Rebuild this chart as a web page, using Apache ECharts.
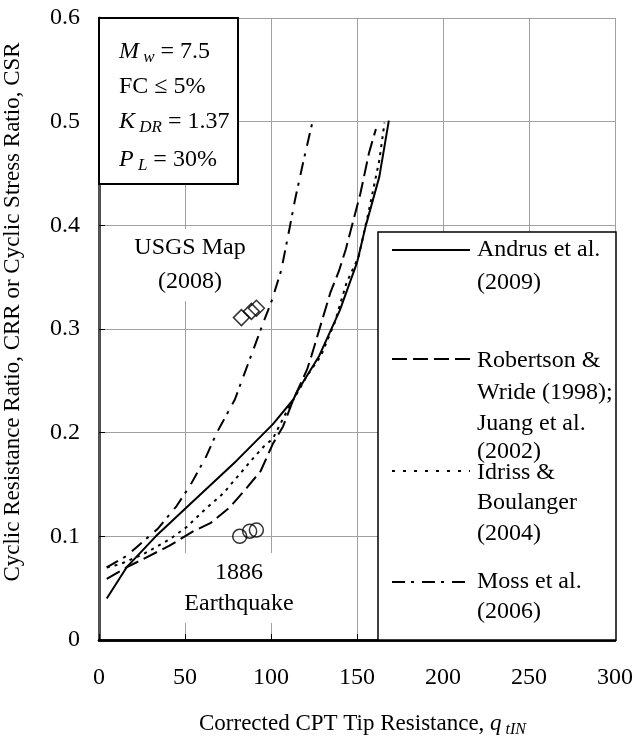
<!DOCTYPE html>
<html>
<head>
<meta charset="utf-8">
<title>CRR curves</title>
<script src="https://cdn.jsdelivr.net/npm/echarts@6/dist/echarts.min.js"></script>
<style>
  html, body { margin: 0; padding: 0; background: #fff; }
  #chart { width: 636px; height: 738px; }
</style>
</head>
<body>
<div id="chart"></div>
<script>
// curves: [qt1N, CRR]
const andrus = [[4.5, 0.040], [16, 0.070], [33, 0.100], [51, 0.128], [80, 0.173], [101, 0.208], [113, 0.232], [115, 0.239], [128, 0.274], [140, 0.318], [150, 0.364], [155, 0.399], [163, 0.447], [168.5, 0.501]]
const robertson = [[4.5, 0.059], [16, 0.070], [41, 0.091], [55, 0.105], [65, 0.113], [76, 0.128], [86, 0.147], [94, 0.163], [101, 0.189], [107, 0.206], [113, 0.232], [121, 0.261], [123.5, 0.274], [134.5, 0.335], [139.5, 0.356], [143.5, 0.377], [152, 0.431], [157, 0.470], [161, 0.493]]
const idriss = [[4.5, 0.070], [12, 0.073], [26, 0.083], [41, 0.097], [51, 0.109], [61, 0.125], [72, 0.141], [90, 0.176], [96, 0.187], [101, 0.194], [109, 0.220], [121, 0.255], [129, 0.274], [137, 0.306], [144, 0.345], [151, 0.370], [157, 0.415], [163, 0.463], [166, 0.499]]
const moss = [[4.5, 0.070], [16, 0.081], [34, 0.107], [45, 0.129], [53, 0.149], [62, 0.176], [68.5, 0.200], [79, 0.232], [95.5, 0.306], [100.6, 0.328], [106, 0.357], [111, 0.399], [114, 0.425], [119, 0.463], [124, 0.499]]
// case history points
const usgsMap = [[82.8, 0.311], [88.6, 0.317], [91.5, 0.320]]
const quake1886 = [[81.8, 0.100], [87.6, 0.105], [91.5, 0.106]]

const FONT = '"Liberation Serif", "DejaVu Serif", serif'

const chart = echarts.init(document.getElementById('chart'))

const lineSeries = (name, data, dash) => ({
  name: name,
  type: 'line',
  data: data,
  showSymbol: false,
  smooth: false,
  silent: true,
  lineStyle: { color: '#000', width: 2, type: dash }
})

const markerSeries = (name, data, symbol, size) => ({
  name: name,
  type: 'scatter',
  data: data,
  symbol: symbol,
  symbolSize: size,
  silent: true,
  itemStyle: { color: 'transparent', borderColor: '#000', borderWidth: 1.5 },
  z: 5
})

const txt = (x, y, text, extra) => Object.assign({
  type: 'text',
  x: x,
  y: y,
  z: 110,
  style: {
    text: text,
    fontFamily: FONT,
    fontSize: 24,
    fill: '#000',
    textAlign: 'left',
    textVerticalAlign: 'middle'
  }
}, extra || {})

const richStyles = {
  n: { fontFamily: FONT, fontSize: 24, lineHeight: 28, color: '#000' },
  i: { fontFamily: FONT, fontSize: 24, lineHeight: 28, fontStyle: 'italic', color: '#000' },
  s: { fontFamily: FONT, fontSize: 17, lineHeight: 16, fontStyle: 'italic', verticalAlign: 'bottom', color: '#000' }
}

const richTxt = (x, y, text) => ({
  type: 'text',
  x: x,
  y: y,
  z: 110,
  style: {
    text: text,
    rich: richStyles,
    textAlign: 'left',
    textVerticalAlign: 'middle'
  }
})

// legend text, one row per line
const legendRows = [
  ['Andrus et al.', 250], ['(2009)', 283],
  ['Robertson &', 361], ['Wride (1998);', 393], ['Juang et al.', 424], ['(2002)', 452],
  ['Idriss &', 473], ['Boulanger', 503], ['(2004)', 534],
  ['Moss et al.', 582], ['(2006)', 612]
]
const legendLines = [
  [250, 'solid'], [359, [15, 6]], [471, [3, 8]], [582, [13, 6, 3, 8]]
]

const graphics = [
  // top-left parameter box
  { type: 'rect', z: 100, shape: { x: 99, y: 18, width: 139, height: 166 }, style: { fill: '#fff', stroke: '#000', lineWidth: 2 } },
  richTxt(119, 52, '{i|M}{s| w}{n| = 7.5}'),
  txt(119, 87, 'FC ≤ 5%'),
  richTxt(119, 122, '{i|K}{s| DR}{n| = 1.37}'),
  richTxt(119, 160, '{i|P}{s| L}{n| = 30%}'),
  // legend box
  { type: 'rect', z: 100, shape: { x: 378, y: 232, width: 238, height: 408 }, style: { fill: '#fff', stroke: '#000', lineWidth: 1.5 } },
  // annotations
  txt(190, 265, 'USGS Map\n(2008)', { z: 90, style: { text: 'USGS Map\n(2008)', fontFamily: FONT, fontSize: 24, lineHeight: 34, fill: '#000', textAlign: 'center', textVerticalAlign: 'middle', backgroundColor: '#fff', padding: [2, 6] } }),
  txt(239, 588, '1886\nEarthquake', { z: 90, style: { text: '1886\nEarthquake', fontFamily: FONT, fontSize: 24, lineHeight: 31, fill: '#000', textAlign: 'center', textVerticalAlign: 'middle', backgroundColor: '#fff', padding: [4, 6] } }),
  // axis titles
  txt(13, 312, 'Cyclic Resistance Ratio, CRR or Cyclic Stress Ratio, CSR', {
    rotation: Math.PI / 2,
    style: { text: 'Cyclic Resistance Ratio, CRR or Cyclic Stress Ratio, CSR', fontFamily: FONT, fontSize: 23, fill: '#000', textAlign: 'center', textVerticalAlign: 'middle' }
  }),
  {
    type: 'text', x: 199, y: 724, z: 110,
    style: {
      text: '{n|Corrected CPT Tip Resistance, }{i|q}{s| tIN}',
      rich: {
        n: { fontFamily: FONT, fontSize: 23, lineHeight: 28, color: '#000' },
        i: { fontFamily: FONT, fontSize: 23, lineHeight: 28, fontStyle: 'italic', color: '#000' },
        s: { fontFamily: FONT, fontSize: 16, lineHeight: 16, fontStyle: 'italic', verticalAlign: 'bottom', color: '#000' }
      },
      textAlign: 'left',
      textVerticalAlign: 'middle'
    }
  }
]

legendLines.forEach(l => {
  graphics.push({
    type: 'line', z: 110,
    shape: { x1: 392, y1: l[0], x2: 470, y2: l[0] },
    style: { stroke: '#000', lineWidth: 2, lineDash: l[1] === 'solid' ? null : l[1] }
  })
})
legendRows.forEach(r => graphics.push(txt(477, r[1], r[0])))

const option = {
  backgroundColor: '#fff',
  animation: false,
  grid: { left: 99, top: 18, right: 20, bottom: 98 },
  xAxis: [
    {
      type: 'value',
      min: 0,
      max: 300,
      interval: 50,
      axisLine: { show: true, onZero: false, lineStyle: { color: '#000', width: 2.5 } },
      axisTick: { show: true, inside: true, length: 6, lineStyle: { color: '#000' } },
      axisLabel: { margin: 26, fontFamily: FONT, fontSize: 24, color: '#000' },
      splitLine: { show: true, lineStyle: { color: '#a0a0a0', width: 1 } }
    },
    {
      type: 'value',
      position: 'top',
      min: 0,
      max: 300,
      axisLine: { show: true, lineStyle: { color: '#000', width: 2.5 } },
      axisTick: { show: false },
      axisLabel: { show: false },
      splitLine: { show: false }
    }
  ],
  yAxis: [
    {
      type: 'value',
      min: 0,
      max: 0.6,
      interval: 0.1,
      axisLine: { show: true, onZero: false, lineStyle: { color: '#000', width: 2.5 } },
      axisTick: { show: true, inside: true, length: 6, lineStyle: { color: '#000' } },
      axisLabel: { margin: 19, fontFamily: FONT, fontSize: 24, color: '#000' },
      splitLine: { show: true, lineStyle: { color: '#a0a0a0', width: 1 } }
    },
    {
      type: 'value',
      position: 'right',
      min: 0,
      max: 0.6,
      axisLine: { show: true, lineStyle: { color: '#555', width: 2.5 } },
      axisTick: { show: false },
      axisLabel: { show: false },
      splitLine: { show: false }
    }
  ],
  series: [
    lineSeries('Andrus et al. (2009)', andrus, 'solid'),
    lineSeries('Robertson & Wride (1998); Juang et al. (2002)', robertson, [15, 6]),
    lineSeries('Idriss & Boulanger (2004)', idriss, [3, 5]),
    lineSeries('Moss et al. (2006)', moss, [13, 6, 3, 8]),
    markerSeries('USGS Map (2008)', usgsMap, 'diamond', 16),
    markerSeries('1886 Earthquake', quake1886, 'circle', 14)
  ],
  graphic: graphics
}

chart.setOption(option)
</script>
</body>
</html>
